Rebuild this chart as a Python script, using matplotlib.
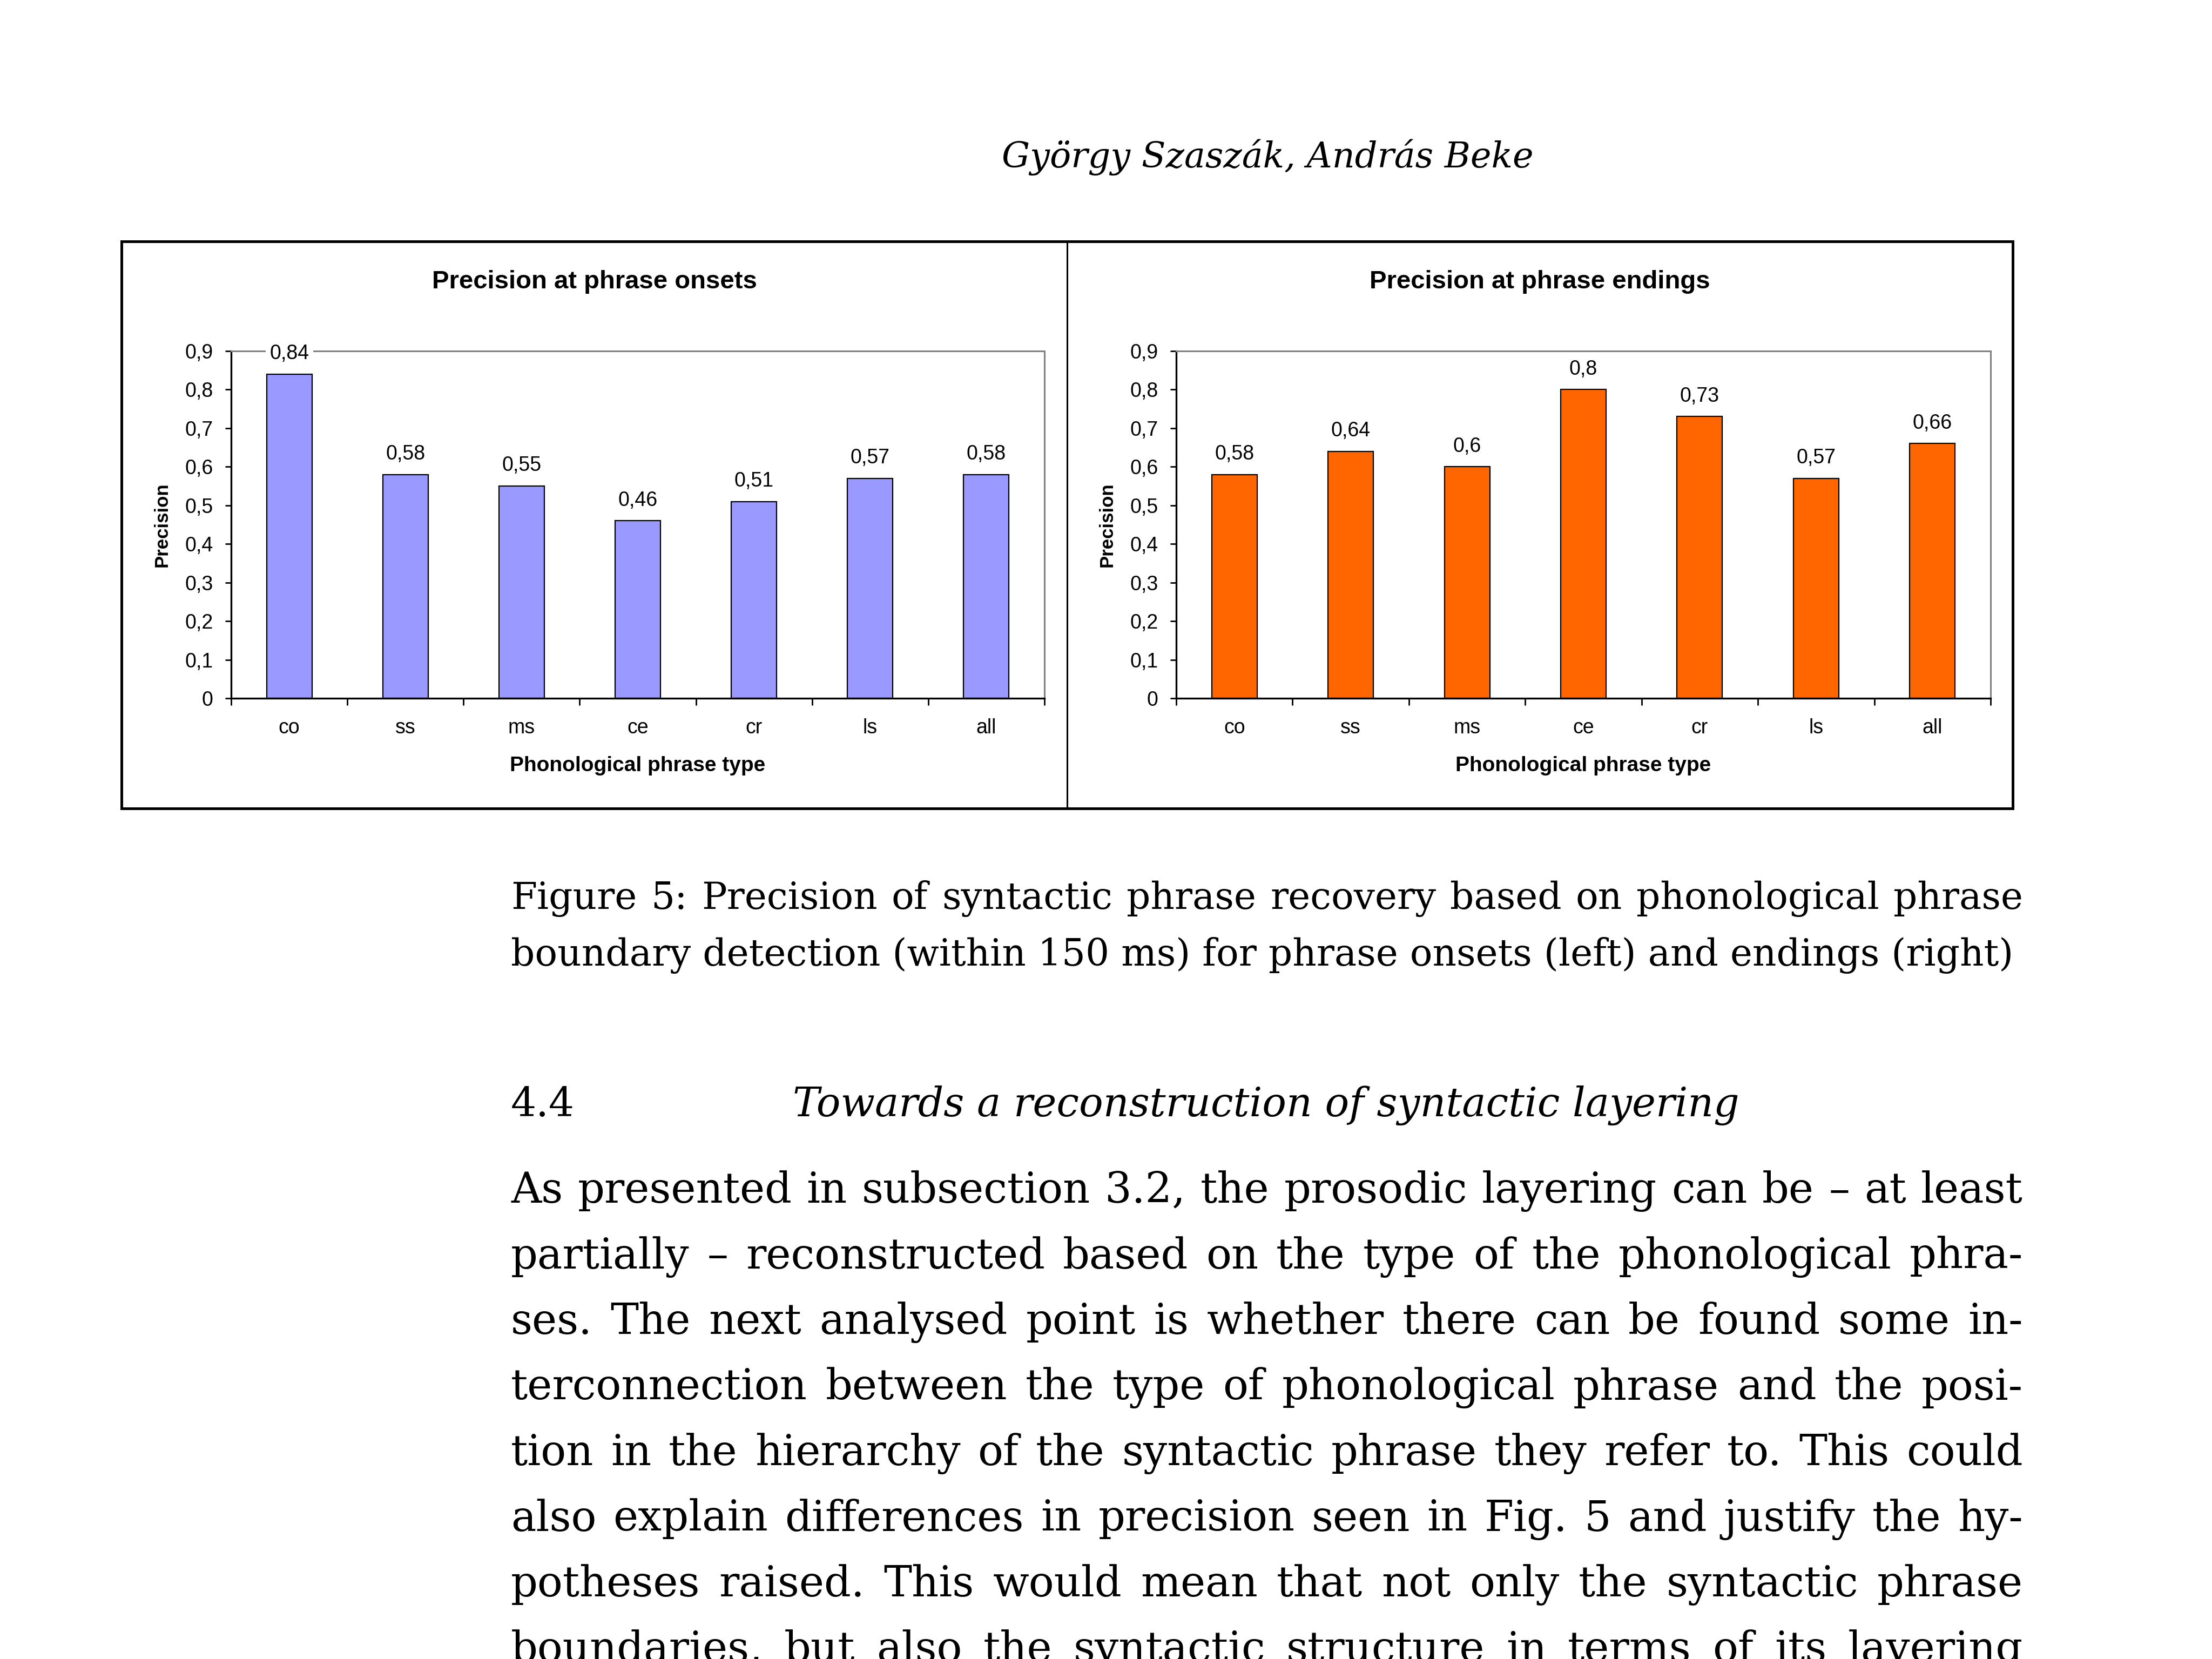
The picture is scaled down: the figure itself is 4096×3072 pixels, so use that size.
import numpy as np
import matplotlib
matplotlib.use("Agg")
import matplotlib.pyplot as plt
from matplotlib.patches import Rectangle

W, H = 4096, 3072

# chart data
categories = ["co", "ss", "ms", "ce", "cr", "ls", "all"]
onsets = [0.84, 0.58, 0.55, 0.46, 0.51, 0.57, 0.58]
endings = [0.58, 0.64, 0.6, 0.8, 0.73, 0.57, 0.66]
y_ticks = [0, 0.1, 0.2, 0.3, 0.4, 0.5, 0.6, 0.7, 0.8, 0.9]
y_tick_labels = ["0", "0,1", "0,2", "0,3", "0,4", "0,5", "0,6", "0,7", "0,8", "0,9"]

# page text
header = "György Szaszák, András Beke"
caption_lines = [
    "Figure 5: Precision of syntactic phrase recovery based on phonological phrase",
    "boundary detection (within 150 ms) for phrase onsets (left) and endings (right)",
]
section_num = "4.4"
section_title = "Towards a reconstruction of syntactic layering"
body_lines = [
    "As presented in subsection 3.2, the prosodic layering can be – at least",
    "partially – reconstructed based on the type of the phonological phra-",
    "ses. The next analysed point is whether there can be found some in-",
    "terconnection between the type of phonological phrase and the posi-",
    "tion in the hierarchy of the syntactic phrase they refer to. This could",
    "also explain differences in precision seen in Fig. 5 and justify the hy-",
    "potheses raised. This would mean that not only the syntactic phrase",
    "boundaries, but also the syntactic structure in terms of its layering",
]

fig = plt.figure(figsize=(W / 100, H / 100), dpi=100)
fig.patch.set_facecolor("white")
renderer = fig.canvas.get_renderer()

page = fig.add_axes([0, 0, 1, 1])
page.set_xlim(0, W)
page.set_ylim(H, 0)
page.axis("off")

SERIF = "DejaVu Serif"
SANS = "Liberation Sans"


def text_width(s, size, style="normal"):
    t = fig.text(0, 0, s, fontsize=size, family=SERIF, style=style)
    w = t.get_window_extent(renderer).width
    t.remove()
    return w


def fit_size(s, target, style="normal"):
    return 100 * target / text_width(s, 100, style)


def justified(line, x0, x1, y, size):
    words = line.split(" ")
    widths = [text_width(w, size) for w in words]
    gap = (x1 - x0 - sum(widths)) / (len(words) - 1)
    x = x0
    for w, wd in zip(words, widths):
        page.text(x, y, w, fontsize=size, family=SERIF, ha="left", va="baseline")
        x += wd + gap


def px_axes(l, t, r, b):
    return fig.add_axes([l / W, 1 - b / H, (r - l) / W, (b - t) / H])


def draw_chart(ax, values, color):
    x = np.arange(len(categories))
    ax.bar(x, values, width=0.39, color=color, edgecolor="black", linewidth=1.6, zorder=2)
    ax.set_xlim(-0.5, len(categories) - 0.5)
    ax.set_ylim(0, 0.9)
    ax.set_facecolor("none")
    for side in ["left", "bottom"]:
        ax.spines[side].set_color("black")
        ax.spines[side].set_linewidth(2.4)
    for side in ["top", "right"]:
        ax.spines[side].set_color("#808080")
        ax.spines[side].set_linewidth(2.2)
    ax.set_yticks(y_ticks)
    ax.set_yticklabels(y_tick_labels, family=SANS, fontsize=27)
    ax.tick_params(axis="y", direction="out", length=8, width=2, pad=16)
    ax.set_xticks(np.arange(-0.5, len(categories), 1))
    ax.set_xticklabels([])
    ax.set_xticks(x, minor=True)
    ax.set_xticklabels(categories, minor=True, family=SANS, fontsize=27)
    ax.tick_params(axis="x", which="major", direction="out", length=9.5, width=2)
    ax.tick_params(axis="x", which="minor", length=0, pad=27)
    for i, v in enumerate(values):
        ax.annotate(f"{v:g}".replace(".", ","), (i, v), xytext=(0, 20),
                    textcoords="offset points", ha="center", va="baseline",
                    family=SANS, fontsize=27, zorder=5,
                    bbox=dict(boxstyle="square,pad=0.2", fc="white", ec="none"))
    ax.set_ylabel("Precision", family=SANS, fontsize=25, fontweight="bold", va="center")
    ax.yaxis.set_label_coords(-0.085, 0.5)
    ax.set_xlabel("Phonological phrase type", family=SANS, fontsize=28,
                  fontweight="bold", va="center")
    ax.xaxis.set_label_coords(0.5, -125 / 643)


# figure frame
page.add_patch(Rectangle((225, 447), 3502, 1050, fill=False, lw=3.6, ec="black"))
page.plot([1976, 1976], [447, 1497], color="black", lw=2.2)

page.text(1101, 522, "Precision at phrase onsets", ha="center", va="center",
          family=SANS, fontsize=34, fontweight="bold")
page.text(2851, 522, "Precision at phrase endings", ha="center", va="center",
          family=SANS, fontsize=34, fontweight="bold")

ax1 = px_axes(428, 650, 1934, 1293)
draw_chart(ax1, onsets, "#9999FF")
ax2 = px_axes(2178, 650, 3686, 1293)
draw_chart(ax2, endings, "#FF6600")

# header
hs = fit_size(header, 2839 - 1855, "italic")
page.text(1855, 310, header, fontsize=hs, family=SERIF, style="italic",
          ha="left", va="baseline")

# caption
cs = fit_size(caption_lines[1], 3727 - 946)
justified(caption_lines[0], 946, 3746, 1683, cs)
page.text(946, 1788, caption_lines[1], fontsize=cs, family=SERIF, ha="left", va="baseline")

# section heading
ss = fit_size(section_title, 3219 - 1468, "italic")
page.text(946, 2067, section_num, fontsize=ss, family=SERIF, ha="left", va="baseline")
page.text(1468, 2067, section_title, fontsize=ss, family=SERIF, style="italic",
          ha="left", va="baseline")

# body
bs = min(fit_size(l, 3746 - 946) for l in body_lines) * 0.99
for k, line in enumerate(body_lines):
    justified(line, 946, 3746, 2227 + k * 121.5, bs)

fig.savefig("out.png", dpi=100)
